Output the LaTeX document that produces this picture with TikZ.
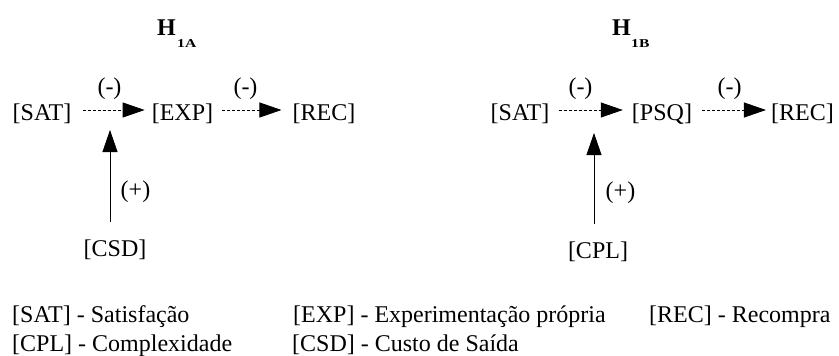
\documentclass[tikz,border=0pt]{standalone}
\usepackage{fontspec}
\setmainfont{Liberation Serif}
\usetikzlibrary{arrows.meta}

\tikzset{
  txt/.style={inner sep=0pt, anchor=base, font=\fontsize{24}{28}\selectfont},
  legend/.style={inner sep=0pt, anchor=base west, font=\fontsize{24}{28}\selectfont},
  hyp/.style={inner sep=0pt, anchor=base west, font=\fontsize{24}{28}\selectfont\bfseries},
  hypsub/.style={inner sep=0pt, anchor=base west, font=\fontsize{12}{14}\selectfont\bfseries},
  tip/.style={-{Triangle[length=22pt,width=15pt]}},
  negarrow/.style={tip, line width=0.8pt, dash pattern=on 3pt off 2pt},
  posarrow/.style={tip, line width=0.8pt},
}

\begin{document}
\begin{tikzpicture}[x=1pt,y=-1pt]
  \fill[white] (0,0) rectangle (839,356);
  \useasboundingbox (0,0) rectangle (839,356);

  % ---- H1A ----
  \node[hyp]    (hA)  at (157,35) {H};
  \node[hypsub] (hAs) at (177,47) {\scalebox{1.3}[1]{1A}};

  \node[txt] (satA) at (42,120)  {[SAT]};
  \node[txt] (exp)  at (182.5,120) {[EXP]};
  \node[txt] (recA) at (324,120) {[REC]};
  \node[txt] (csd)  at (115,256) {[CSD]};
  \coordinate (tipA) at (110,130);

  \node[txt] (mA1) at (109.5,94) {(-)};
  \node[txt] (mA2) at (245.5,94) {(-)};
  \node[txt] (pA)  at (135.5,197) {(+)};

  \draw[negarrow] ([shift={(11pt,10pt)}]satA.base east) -- ([shift={(-7pt,10pt)}]exp.base west);
  \draw[negarrow] ([shift={(9pt,10pt)}]exp.base east) -- ([shift={(-11pt,10pt)}]recA.base west);
  \draw[posarrow] ([shift={(-5pt,17pt)}]csd.north) -- (tipA);

  % ---- H1B ----
  \node[hyp]    (hB)  at (612,35) {H};
  \node[hypsub] (hBs) at (631,47) {\scalebox{1.3}[1]{1B}};

  \node[txt] (satB) at (520,120) {[SAT]};
  \node[txt] (psq)  at (662,120) {[PSQ]};
  \node[txt] (recB) at (802.5,120) {[REC]};
  \node[txt] (cpl)  at (598,258) {[CPL]};
  \coordinate (tipB) at (594,133);

  \node[txt] (mB1) at (580.5,94) {(-)};
  \node[txt] (mB2) at (729.5,94) {(-)};
  \node[txt] (pB)  at (620.5,198) {(+)};

  \draw[negarrow] ([shift={(9pt,10pt)}]satB.base east) -- ([shift={(-9pt,10pt)}]psq.base west);
  \draw[negarrow] ([shift={(10pt,10pt)}]psq.base east) -- ([shift={(-5pt,10pt)}]recB.base west);
  \draw[posarrow] ([shift={(-4pt,17pt)}]cpl.north) -- (tipB);

  % ---- legend ----
  \node[legend] (l1) at (12,322)  {[SAT] - Satisfação};
  \node[legend] (l2) at (293,322) {[EXP] - Experimentação própria};
  \node[legend] (l3) at (649,322) {[REC] - Recompra};
  \node[legend] (l4) at (12,351)  {[CPL] - Complexidade};
  \node[legend] (l5) at (292,351) {[CSD] - Custo de Saída};
\end{tikzpicture}
\end{document}
